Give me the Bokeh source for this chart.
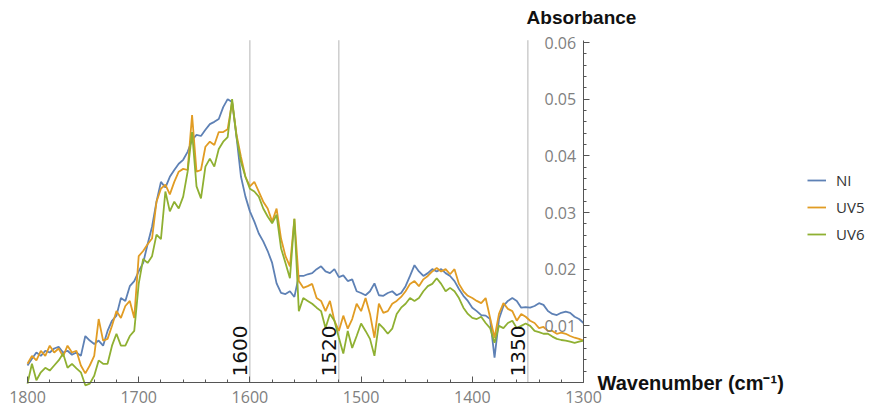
import numpy as np
from bokeh.plotting import figure
from bokeh.models import (Range1d, LinearAxis, FixedTicker, SingleIntervalTicker,
                          NumeralTickFormatter, Label, Legend, LegendItem)
from bokeh.embed import file_html
from bokeh.resources import INLINE

# Wavenumber grid (cm^-1), 4 cm^-1 steps from 1800 down to 1300
wavenumber = list(range(1800, 1299, -4))

# Absorbance spectra, one row per 10 wavenumbers
ni = [
    0.0030, 0.0042, 0.0053, 0.0047, 0.0056, 0.0053, 0.0060, 0.0063, 0.0053, 0.0056,
    0.0049, 0.0053, 0.0047, 0.0082, 0.0074, 0.0068, 0.0074, 0.0065, 0.0091, 0.0109,
    0.0118, 0.0149, 0.0144, 0.0170, 0.0179, 0.0196, 0.0211, 0.0244, 0.0275, 0.0319,
    0.0354, 0.0344, 0.0363, 0.0375, 0.0386, 0.0393, 0.0407, 0.0428, 0.0437, 0.0435,
    0.0446, 0.0456, 0.0460, 0.0465, 0.0486, 0.0500, 0.0495, 0.0433, 0.0363, 0.0328,
    0.0302, 0.0284, 0.0263, 0.0249, 0.0232, 0.0211, 0.0175, 0.0158, 0.0156, 0.0161,
    0.0151, 0.0188, 0.0188, 0.0191, 0.0193, 0.0200, 0.0205, 0.0196, 0.0193, 0.0200,
    0.0186, 0.0189, 0.0179, 0.0182, 0.0161, 0.0158, 0.0154, 0.0161, 0.0175, 0.0154,
    0.0153, 0.0158, 0.0161, 0.0154, 0.0158, 0.0170, 0.0188, 0.0207, 0.0196, 0.0188,
    0.0193, 0.0200, 0.0196, 0.0200, 0.0193, 0.0188, 0.0179, 0.0165, 0.0153, 0.0144,
    0.0132, 0.0126, 0.0119, 0.0118, 0.0112, 0.0044, 0.0112, 0.0135, 0.0144, 0.0149,
    0.0144, 0.0132, 0.0133, 0.0132, 0.0135, 0.0140, 0.0137, 0.0126, 0.0121, 0.0119,
    0.0123, 0.0125, 0.0123, 0.0116, 0.0112, 0.0105,
]
uv5 = [
    0.0033, 0.0047, 0.0039, 0.0056, 0.0047, 0.0065, 0.0053, 0.0060, 0.0046, 0.0065,
    0.0053, 0.0056, 0.0030, 0.0016, 0.0030, 0.0047, 0.0112, 0.0074, 0.0077, 0.0100,
    0.0126, 0.0114, 0.0135, 0.0144, 0.0114, 0.0223, 0.0232, 0.0244, 0.0254, 0.0319,
    0.0342, 0.0349, 0.0332, 0.0354, 0.0372, 0.0377, 0.0375, 0.0472, 0.0372, 0.0375,
    0.0416, 0.0425, 0.0419, 0.0442, 0.0442, 0.0447, 0.0495, 0.0437, 0.0398, 0.0363,
    0.0346, 0.0354, 0.0337, 0.0319, 0.0307, 0.0284, 0.0307, 0.0254, 0.0223, 0.0205,
    0.0289, 0.0179, 0.0167, 0.0170, 0.0174, 0.0149, 0.0144, 0.0126, 0.0144, 0.0109,
    0.0091, 0.0118, 0.0095, 0.0112, 0.0139, 0.0126, 0.0149, 0.0121, 0.0079, 0.0139,
    0.0123, 0.0126, 0.0139, 0.0144, 0.0151, 0.0161, 0.0174, 0.0179, 0.0170, 0.0182,
    0.0188, 0.0196, 0.0202, 0.0196, 0.0200, 0.0191, 0.0200, 0.0174, 0.0161, 0.0153,
    0.0149, 0.0144, 0.0140, 0.0149, 0.0114, 0.0079, 0.0121, 0.0140, 0.0130, 0.0126,
    0.0109, 0.0121, 0.0116, 0.0109, 0.0105, 0.0096, 0.0098, 0.0091, 0.0091, 0.0086,
    0.0088, 0.0086, 0.0082, 0.0079, 0.0077, 0.0074,
]
uv6 = [
    -0.0002, 0.0033, 0.0004, 0.0018, 0.0026, 0.0021, 0.0030, 0.0039, 0.0051, 0.0026,
    0.0033, 0.0025, 0.0018, -0.0005, -0.0002, 0.0012, 0.0039, 0.0033, 0.0033, 0.0065,
    0.0086, 0.0065, 0.0065, 0.0082, 0.0091, 0.0174, 0.0218, 0.0211, 0.0223, 0.0261,
    0.0253, 0.0337, 0.0302, 0.0319, 0.0307, 0.0328, 0.0372, 0.0442, 0.0346, 0.0325,
    0.0381, 0.0395, 0.0381, 0.0412, 0.0425, 0.0433, 0.0500, 0.0433, 0.0389, 0.0363,
    0.0342, 0.0337, 0.0328, 0.0307, 0.0293, 0.0281, 0.0296, 0.0237, 0.0211, 0.0184,
    0.0289, 0.0126, 0.0149, 0.0144, 0.0139, 0.0132, 0.0126, 0.0096, 0.0121, 0.0109,
    0.0079, 0.0051, 0.0091, 0.0061, 0.0082, 0.0104, 0.0091, 0.0077, 0.0047, 0.0104,
    0.0096, 0.0086, 0.0095, 0.0121, 0.0132, 0.0139, 0.0149, 0.0144, 0.0149, 0.0161,
    0.0170, 0.0174, 0.0184, 0.0174, 0.0161, 0.0167, 0.0161, 0.0149, 0.0132, 0.0121,
    0.0114, 0.0112, 0.0116, 0.0105, 0.0096, 0.0070, 0.0100, 0.0096, 0.0105, 0.0109,
    0.0096, 0.0100, 0.0104, 0.0100, 0.0091, 0.0089, 0.0086, 0.0086, 0.0081, 0.0077,
    0.0075, 0.0074, 0.0072, 0.0070, 0.0072, 0.0074,
]

series_names = ["NI", "UV5", "UV6"]
series_colors = ["#5E81B5", "#E19C24", "#8FB032"]

# Band positions marked with reference lines
marker_wn = [1600, 1520, 1350]
marker_labels = ["1600", "1520", "1350"]

y_ticks = [0.01, 0.02, 0.03, 0.04, 0.05, 0.06]
wn_min, wn_max = 1300, 1800
abs_max = 0.0604

# Page geometry (pixels): the axes cross at (1300, 0); the frame covers the
# page so the titles, tick labels and legend can sit around the axes
W, H = 881, 407
left_px, origin_x_px = 27, 583        # where 1800 and 1300 land
origin_y_px, top_px = 382, 42         # where 0 and 0.06 land
frame_left, frame_right, frame_top = 0, W - 5, 5
px_per_wn = (origin_x_px - left_px) / (wn_max - wn_min)
px_per_abs = (origin_y_px - top_px) / 0.06
x_start = wn_max + (left_px - frame_left) / px_per_wn
x_end = wn_max - (frame_right - left_px) / px_per_wn
y_start = -(H - origin_y_px) / px_per_abs
y_end = (origin_y_px - frame_top) / px_per_abs

p = figure(width=W, height=H, output_backend="svg", toolbar_location=None,
           x_range=Range1d(x_start, x_end), y_range=Range1d(y_start, y_end),
           x_axis_location=None, y_axis_location=None,
           min_border_left=frame_left, min_border_right=W - frame_right,
           min_border_top=frame_top, min_border_bottom=0)
p.outline_line_color = None
p.xgrid.visible = False
p.ygrid.visible = False
p.background_fill_color = "white"
p.border_fill_color = "white"

# Vertical reference lines at the marked bands
p.segment(x0=marker_wn, y0=[0] * len(marker_wn), x1=marker_wn,
          y1=[abs_max] * len(marker_wn), line_color="#b4b4b4", line_width=1)

renderers = []
for name, ys, col in zip(series_names, [ni, uv5, uv6], series_colors):
    r = p.line(wavenumber, ys, line_color=col, line_width=1.8)
    renderers.append(r)

axis_col = "#555555"

# Wavenumber axis drawn along absorbance 0, ticks pointing up, labels below
xaxis = LinearAxis(ticker=SingleIntervalTicker(interval=100, num_minor_ticks=5),
                   fixed_location=0, bounds=(wn_min, wn_max))
xaxis.axis_line_color = axis_col
xaxis.major_tick_line_color = axis_col
xaxis.minor_tick_line_color = axis_col
xaxis.major_tick_in = 0
xaxis.major_tick_out = 6
xaxis.minor_tick_in = 0
xaxis.minor_tick_out = 3
xaxis.major_label_standoff = -26
xaxis.major_label_text_font = "Open Sans"
xaxis.major_label_text_font_size = "16px"
xaxis.major_label_text_color = "#808080"
p.add_layout(xaxis, "above")

# Absorbance axis drawn at 1300 cm^-1, ticks pointing right, labels inside
minor_y = [round(v, 4) for v in np.arange(0.002, abs_max, 0.002) if round(v * 500) % 5 != 0]
yaxis = LinearAxis(ticker=FixedTicker(ticks=y_ticks, minor_ticks=minor_y),
                   formatter=NumeralTickFormatter(format="0.00"),
                   fixed_location=wn_min, bounds=(0, abs_max))
yaxis.axis_line_color = axis_col
yaxis.major_tick_line_color = axis_col
yaxis.minor_tick_line_color = axis_col
yaxis.major_tick_in = 0
yaxis.major_tick_out = 6
yaxis.minor_tick_in = 0
yaxis.minor_tick_out = 3
yaxis.major_label_standoff = -45
yaxis.major_label_text_font = "Open Sans"
yaxis.major_label_text_font_size = "16px"
yaxis.major_label_text_color = "#808080"
p.add_layout(yaxis, "right")

# Axis titles
p.add_layout(Label(x=wn_min, y=abs_max, x_offset=-2, y_offset=23, text="Absorbance",
                   text_align="center", text_baseline="middle",
                   text_font="Liberation Sans", text_font_style="bold",
                   text_font_size="19px", text_color="#111111"))
p.add_layout(Label(x=wn_min, y=0, x_offset=14, y_offset=0,
                   text="Wavenumber (cm\u207b\u00b9)",
                   text_align="left", text_baseline="middle",
                   text_font="Liberation Sans", text_font_style="bold",
                   text_font_size="20px", text_color="#111111"))

# Rotated band labels beside the reference lines
for wn, lab in zip(marker_wn, marker_labels):
    p.add_layout(Label(x=wn, y=0, x_offset=-3, y_offset=6, text=lab,
                       angle=np.pi / 2, text_align="left", text_baseline="bottom",
                       text_font="DejaVu Sans", text_font_size="20px",
                       text_color="#111111"))

legend = Legend(items=[LegendItem(label=n, renderers=[r])
                       for n, r in zip(series_names, renderers)],
                location=(807 - frame_left, 163), glyph_width=19, glyph_height=20,
                label_height=20, spacing=7, padding=0, margin=0,
                label_standoff=10, border_line_color=None,
                background_fill_alpha=0,
                label_text_font="Open Sans", label_text_font_size="15px",
                label_text_color="#333333")
p.add_layout(legend)

open("out.html", "w").write(file_html(p, INLINE))
